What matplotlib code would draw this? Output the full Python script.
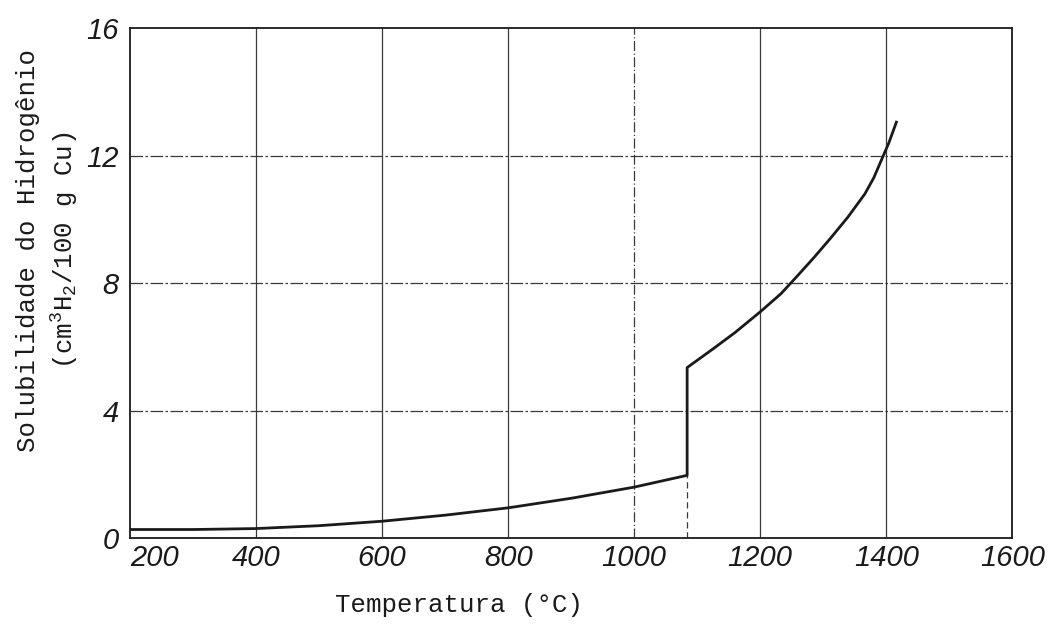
import matplotlib.pyplot as plt

# solubility of hydrogen in copper
temp_solid = [200, 300, 400, 500, 600, 700, 800, 900, 1000, 1084]
sol_solid = [0.27, 0.27, 0.3, 0.39, 0.53, 0.72, 0.95, 1.25, 1.6, 1.97]

temp_liquid = [1084, 1126, 1160, 1200, 1233, 1260, 1286, 1312, 1339, 1366, 1380, 1392, 1404, 1416]
sol_liquid = [5.35, 5.95, 6.45, 7.1, 7.67, 8.25, 8.82, 9.42, 10.07, 10.8, 11.3, 11.85, 12.4, 13.05]

x_ticks = [200, 400, 600, 800, 1000, 1200, 1400, 1600]
y_ticks = [0, 4, 8, 12, 16]
melting_point = 1084

mono = ['Liberation Mono', 'DejaVu Sans Mono']
tick_font = ['Liberation Sans', 'DejaVu Sans']
plt.rcParams['mathtext.default'] = 'regular'

fig = plt.figure(figsize=(10.48, 6.25), dpi=100)
ax = fig.add_axes([0.124, 0.139, 0.842, 0.816])

ink = '#1a1a1a'
grid_c = '#3a3a3a'

# grid
for x in x_ticks[1:-1]:
    ls = (0, (8, 2, 1, 2)) if x == 1000 else '-'
    ax.axvline(x, color=grid_c, lw=0.9, ls=ls, zorder=1)
for y in y_ticks[1:-1]:
    ax.axhline(y, color=grid_c, lw=0.9, ls=(0, (10, 2, 2, 2)), zorder=1)
ax.plot([melting_point, melting_point], [0, sol_solid[-1]], color=grid_c,
        lw=0.9, ls=(0, (5, 3)), zorder=1)

# curve with jump at the melting point
ax.plot(temp_solid + temp_liquid, sol_solid + sol_liquid, color=ink, lw=2.0,
        solid_joinstyle='round', zorder=3)

ax.set_xlim(200, 1600)
ax.set_ylim(0, 16)
ax.set_xticks(x_ticks)
ax.set_yticks(y_ticks)
ax.tick_params(length=0, labelsize=21, colors=ink)
ax.tick_params(axis='x', pad=4)
ax.tick_params(axis='y', pad=8)
for lab in ax.get_xticklabels() + ax.get_yticklabels():
    lab.set_family(tick_font)
    lab.set_style('italic')
ax.get_xticklabels()[0].set_ha('left')

for s in ax.spines.values():
    s.set_color(ink)
    s.set_linewidth(1.3)

fig.text(0.438, 0.032, 'Temperatura (°C)', family=mono, fontsize=18.5,
         ha='center', va='center', color=ink)
fig.text(0.027, 0.6, 'Solubilidade do Hidrogênio', family=mono, fontsize=18.5,
         rotation=90, ha='center', va='center', color=ink)
fig.text(0.062, 0.6, '(cm$^3$H$_2$/100 g Cu)', family=mono, fontsize=18.5,
         rotation=90, ha='center', va='center', color=ink)

fig.savefig('out.png', dpi=100)
